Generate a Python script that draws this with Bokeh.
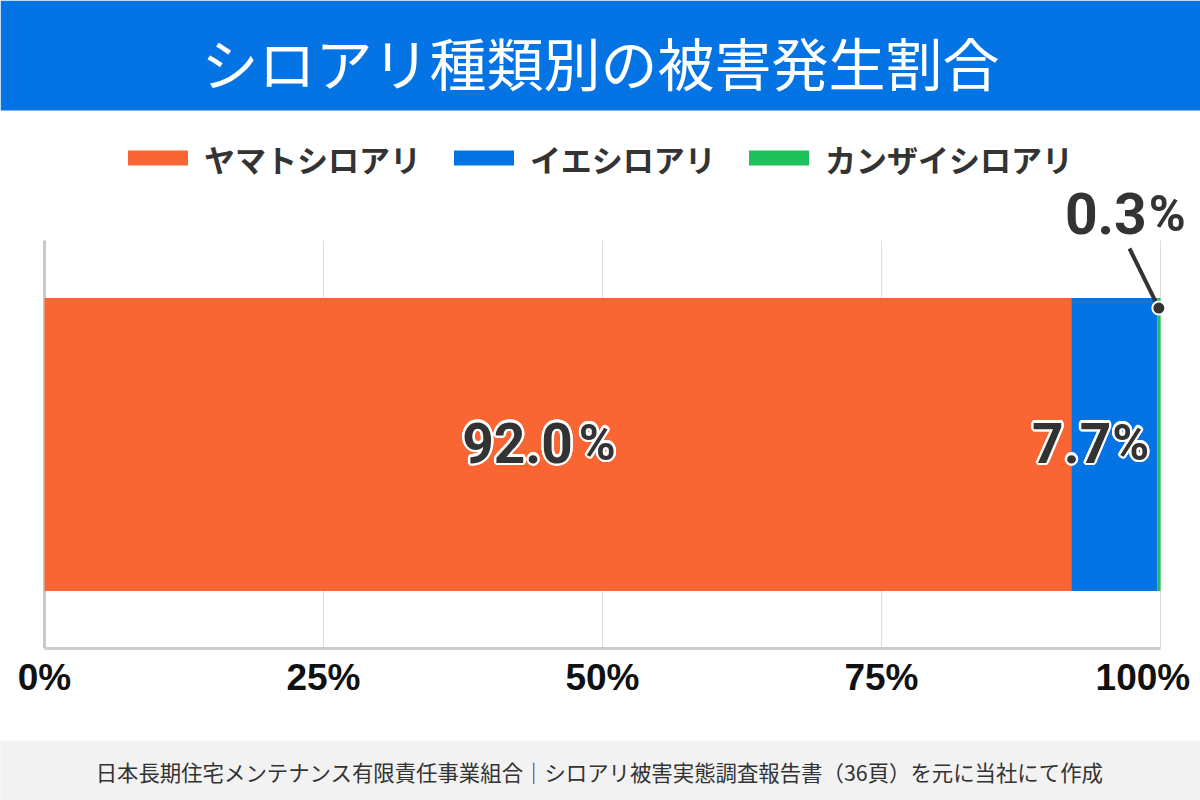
import numpy as np
from bokeh.plotting import figure
from bokeh.layouts import column
from bokeh.models import Range1d, FixedTicker, BoxAnnotation, Label, ColumnDataSource
from bokeh.embed import file_html
from bokeh.resources import INLINE

# ---- data ----
categories = ["ヤマトシロアリ", "イエシロアリ", "カンザイシロアリ"]
shares = [92.0, 7.7, 0.3]
share_labels = ["92.0", "7.7", "0.3"]
colors = ["#FA6633", "#0474E4", "#1CC15B"]
tick_values = [0, 25, 50, 75, 100]
tick_labels = ["0%", "25%", "50%", "75%", "100%"]
title_text = "シロアリ種類別の被害発生割合"
source_text = "日本長期住宅メンテナンス有限責任事業組合｜シロアリ被害実態調査報告書（36頁）を元に当社にて作成"

# ---- geometry (pixels) ----
W = 1200
MAIN_H, FOOT_H = 740, 60
AX_H = 92                      # axis panel below the frame
PLOT_L, PLOT_R = 44, 1160      # x of 0% and 100%
PLOT_T, PLOT_B = 240, 648      # y of the value-area top and bottom
UX = (PLOT_R - PLOT_L) / 100.0
UY = float(PLOT_B - PLOT_T)


def dx(px):
    return (px - PLOT_L) / UX


def dy(py):
    return (PLOT_B - py) / UY


# ---- main figure: frame covers the whole width, from the top down to the axis ----
p = figure(width=W, height=MAIN_H, x_range=Range1d(dx(0), dx(W)), y_range=Range1d(dy(PLOT_B), dy(0)),
           y_axis_type=None, output_backend="svg", toolbar_location=None,
           min_border_left=0, min_border_right=0, min_border_top=0, min_border_bottom=AX_H)
p.outline_line_color = None
p.background_fill_color = "white"
p.border_fill_color = "white"
p.grid.visible = False

p.xaxis.bounds = (tick_values[0], tick_values[-1])
p.xaxis.ticker = FixedTicker(ticks=tick_values)
p.xaxis.major_label_overrides = {v: (lab if v != 100 else lab + "\u00a0") for v, lab in zip(tick_values, tick_labels)}
p.xaxis.major_tick_line_color = None
p.xaxis.minor_tick_line_color = None
p.xaxis.major_tick_out = 0
p.xaxis.major_label_standoff = 8
p.xaxis.major_label_text_font = "Liberation Sans"
p.xaxis.major_label_text_font_style = "bold"
p.xaxis.major_label_text_font_size = "37px"
p.xaxis.major_label_text_color = "#111111"
p.xaxis.axis_line_color = "#cccccc"
p.xaxis.axis_line_width = 3

# grid lines and left axis line
p.segment(x0=tick_values[1:], x1=tick_values[1:], y0=0, y1=1, line_color="#dddddd", line_width=1)
p.segment(x0=[0], x1=[0], y0=[0], y1=[1], line_color="#c8c8c8", line_width=3)

# stacked bar
rights = np.cumsum(shares)
lefts = rights - np.array(shares)
centers = (lefts + rights) / 2
bar_y = 0.5
bar_h = 0.718
src = ColumnDataSource(dict(cat=categories, left=lefts, right=rights, color=colors, y=[bar_y] * 3))
p.hbar(y="y", left="left", right="right", height=bar_h, fill_color="color",
       line_color=None, source=src)


def vlabel(x, y, xo, text, size, align, outline):
    if outline:
        for a in np.linspace(0, 2 * np.pi, 16, endpoint=False):
            p.add_layout(Label(x=x, y=y, x_offset=xo + np.cos(a) * 2.4, y_offset=np.sin(a) * 2.4,
                               text=text, text_align=align, text_baseline="alphabetic",
                               text_font="Roboto", text_font_style="bold", text_font_size=size,
                               text_color="white"))
    p.add_layout(Label(x=x, y=y, x_offset=xo, text=text,
                       text_align=align, text_baseline="alphabetic",
                       text_font="Roboto", text_font_style="bold", text_font_size=size,
                       text_color="#333333"))


LIFT = 23.0  # px correction between requested and drawn baseline
inner_offsets = [(15, 21), (-3, -2)]
base_y = bar_y - (21.0 - LIFT) / UY
for i in range(2):
    no, po = inner_offsets[i]
    vlabel(centers[i], base_y, no, share_labels[i], "55px", "right", True)
    vlabel(centers[i], base_y, po, "%", "50px", "left", True)

# callout for the thin segment
dot_x = centers[2]
dot_y = bar_y + bar_h / 2 - 10.0 / UY
p.segment(x0=[dot_x], y0=[dot_y], x1=[dx(1129)], y1=[dy(248)], line_color="#333333", line_width=4)
p.scatter(x=[dot_x], y=[dot_y], size=13, fill_color="#333333", line_color="white", line_width=2)
vlabel(dot_x, dy(236 - LIFT), -12, share_labels[2], "57px", "right", False)
vlabel(dot_x, dy(236 - LIFT), -10, "%", "50px", "left", False)

# title banner
p.add_layout(BoxAnnotation(left=dx(0), right=dx(W), top=dy(0), bottom=dy(110),
                           fill_color="#0474E4", fill_alpha=1.0, line_color=None))
p.add_layout(Label(x=dx(600), y=dy(60), text=title_text, text_align="center",
                   text_baseline="middle", text_font="Noto Sans CJK JP",
                   text_font_size="57px", text_color="white"))

# legend
fs = 31
gap_sw = 16
sw_w = 60
item_gap = 33
widths = [sw_w + gap_sw + len(c) * fs for c in categories]
total = sum(widths) + item_gap * (len(categories) - 1)
x = (W - total) / 2
for c, col, w in zip(categories, colors, widths):
    p.add_layout(BoxAnnotation(left=dx(x), right=dx(x + sw_w), top=dy(150), bottom=dy(165),
                               fill_color=col, fill_alpha=1.0, line_color=None))
    p.add_layout(Label(x=dx(x + sw_w + gap_sw), y=dy(157.5), text=c, text_align="left",
                       text_baseline="middle", text_font="Noto Sans CJK JP",
                       text_font_style="bold", text_font_size=f"{fs}px", text_color="#333333"))
    x += w + item_gap

# ---- footer ----
foot = figure(width=W, height=FOOT_H, x_range=Range1d(0, W), y_range=Range1d(FOOT_H, 0),
              x_axis_type=None, y_axis_type=None, output_backend="svg", toolbar_location=None,
              min_border=0)
foot.outline_line_color = None
foot.background_fill_color = "#F2F2F2"
foot.border_fill_color = "#F2F2F2"
foot.add_layout(Label(x=W / 2 - 1, y=31, text=source_text, text_align="center",
                      text_baseline="middle", text_font="Noto Sans CJK JP",
                      text_font_size="21.4px", text_color="#333333"))

layout = column(p, foot, spacing=0)
open("out.html", "w").write(file_html(layout, INLINE))
